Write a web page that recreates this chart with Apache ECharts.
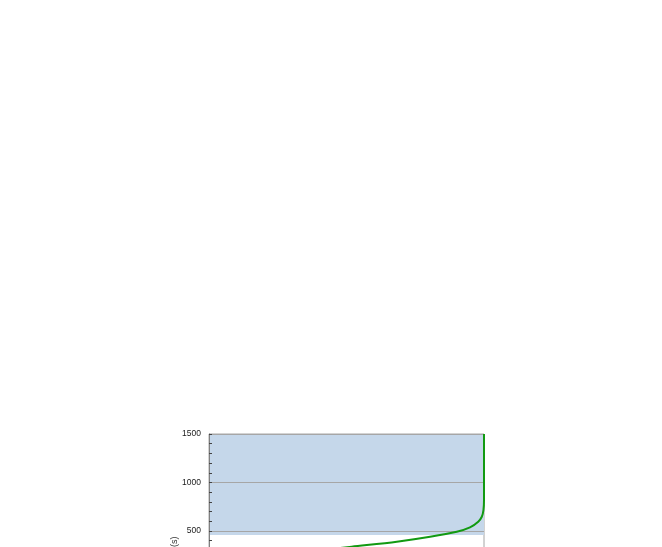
<!DOCTYPE html>
<html lang="en">
<head>
  <meta charset="UTF-8">
  <title>curve chart</title>
  <style>
    html, body { margin: 0; padding: 0; background: #fff; }
  </style>
</head>
<body>
  <div id="main" style="width:662px;height:700px;"></div>
  <script src="https://cdn.jsdelivr.net/npm/echarts@6/dist/echarts.min.js"></script>
  <script>
  // values
  var curveX = [0.0, 0.06, 0.19, 0.37, 0.519, 0.683, 0.804, 0.901, 0.949, 0.979, 0.992, 0.998, 1.0, 1.0, 1.0]
  var curveY = [150, 190, 240, 290, 338, 390, 441, 493, 538, 596, 647, 716, 820, 1000, 1500]
  var bandRange = [458, 1500]
  var yTicks = [0, 500, 1000, 1500]

  var myChart = echarts.init(document.getElementById('main'))
  var option = {
    animation: false,
    textStyle: { fontFamily: 'Liberation Sans, Arial, sans-serif' },
    grid: {
      left: 209, right: 178, top: 434, bottom: 120.5,
      show: true, borderColor: '#a6a6a6', borderWidth: 1
    },
    xAxis: {
      type: 'value', min: 0, max: 1,
      axisLine: { show: false },
      splitLine: { show: false },
      axisTick: { show: false },
      axisLabel: { fontSize: 8, color: '#333' }
    },
    yAxis: {
      type: 'value',
      z: 1,
      min: yTicks[0], max: yTicks[yTicks.length - 1], interval: 500,
      name: 'Time (s)',
      nameLocation: 'middle',
      nameMoveOverlap: false,
      nameGap: 30,
      nameTextStyle: { fontSize: 9, color: '#333', padding: [0, 92, 0, 0] },
      axisLine: { show: true, lineStyle: { color: '#808080', width: 1 } },
      axisTick: { show: true, inside: true, length: 3, lineStyle: { color: '#444' } },
      minorTick: { show: true, splitNumber: 5, length: 3, lineStyle: { color: '#444' } },
      axisLabel: {
        fontSize: 8.5, color: '#1a1a1a', margin: 8,
        formatter: function (v) { return String(v) }
      },
      splitLine: { show: true, lineStyle: { color: '#a6a6a6', width: 1 } }
    },
    series: [
      {
        type: 'line',
        data: [],
        markArea: {
          z: 0,
          silent: true,
          itemStyle: { color: '#c5d7ea' },
          data: [[{ yAxis: bandRange[0] }, { yAxis: bandRange[1] }]]
        }
      },
      {
        type: 'line',
        z: 3,
        data: curveX.map(function (x, i) { return [x, curveY[i]] }),
        showSymbol: false,
        smooth: 0.3,
        lineStyle: { color: '#129a12', width: 2 },
        itemStyle: { color: '#129a12' }
      }
    ]
  }
  myChart.setOption(option)
  </script>
</body>
</html>
